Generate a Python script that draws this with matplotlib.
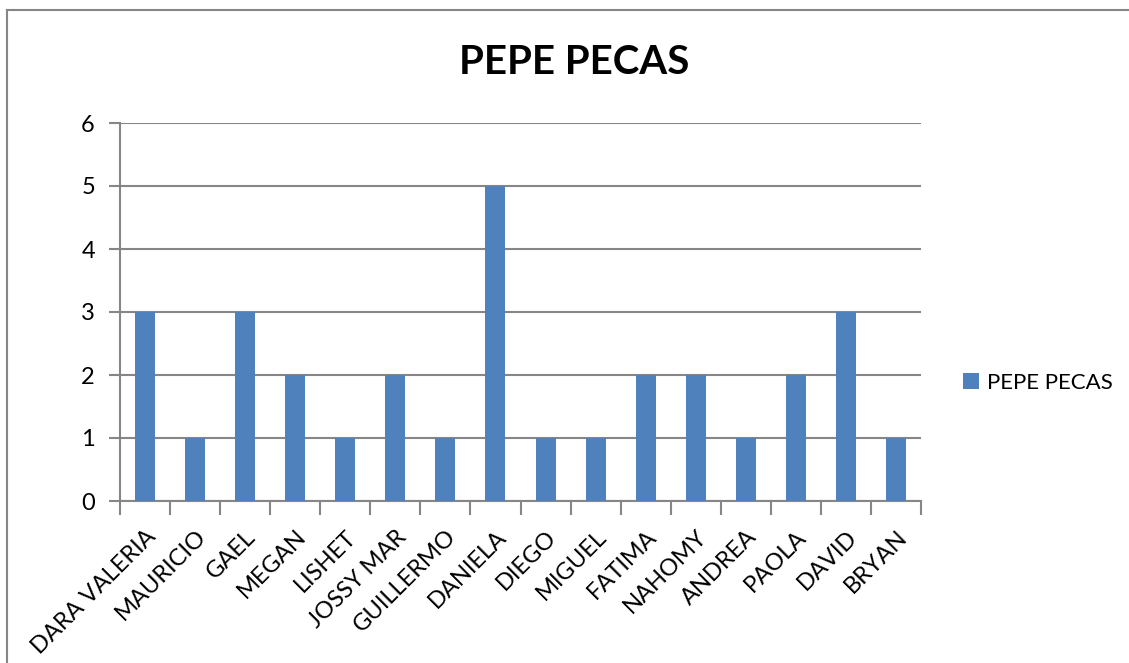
import matplotlib as mpl
mpl.use('Agg')
import matplotlib.pyplot as plt
from matplotlib.lines import Line2D

plt.rcParams['font.family'] = ['Lato', 'DejaVu Sans']

names = ['DARA VALERIA', 'MAURICIO', 'GAEL', 'MEGAN', 'LISHET', 'JOSSY MAR',
         'GUILLERMO', 'DANIELA', 'DIEGO', 'MIGUEL', 'FATIMA', 'NAHOMY',
         'ANDREA', 'PAOLA', 'DAVID', 'BRYAN']
values = [3, 1, 3, 2, 1, 2, 1, 5, 1, 1, 2, 2, 1, 2, 3, 1]
series_name = 'PEPE PECAS'

W, H = 1129, 663
fig = plt.figure(figsize=(W / 100, H / 100), dpi=100)
ax = fig.add_axes([120 / W, 1 - 501 / H, 801 / W, 378 / H])

grey = '#868686'
pos = list(range(len(names)))
ax.bar(pos, values, width=0.4, color='#4F81BD', zorder=3, label=series_name)

ax.set_xlim(-0.5, len(names) - 0.5)
ax.set_ylim(0, 6)
ax.set_yticks(range(0, 7))
ax.yaxis.grid(True, color=grey, linewidth=1.5, zorder=0)
ax.tick_params(axis='y', length=8, width=1.5, color=grey, labelsize=17, pad=10)

# category boundaries carry the tick marks
ax.set_xticks([p - 0.5 for p in pos] + [len(names) - 0.5])
ax.set_xticklabels([])
ax.tick_params(axis='x', length=10, width=1.5, color=grey)
for p, n in zip(pos, names):
    ax.annotate(n, xy=(p, 0), xycoords=('data', 'axes fraction'),
                xytext=(0, -18), textcoords='offset points',
                rotation=45, ha='right', va='top', rotation_mode='anchor',
                fontsize=17)

for s in ['top', 'right']:
    ax.spines[s].set_visible(False)
for s in ['left', 'bottom']:
    ax.spines[s].set_color(grey)
    ax.spines[s].set_linewidth(1.5)

fig.text(574 / W, 1 - 62 / H, 'PEPE PECAS', ha='center', va='center',
         fontsize=29, fontweight='bold')

leg = fig.legend(loc='center left', bbox_to_anchor=(943 / W, 1 - 383 / H),
                 frameon=False, fontsize=16, handlelength=0.7,
                 handleheight=0.7, handletextpad=0.4)

# outer chart border
fig.add_artist(Line2D([7 / W, 1], [1 - 10 / H, 1 - 10 / H], color=grey, linewidth=1.5))
fig.add_artist(Line2D([7 / W, 7 / W], [0, 1 - 10 / H], color=grey, linewidth=1.5))

fig.savefig('out.png', dpi=100)
